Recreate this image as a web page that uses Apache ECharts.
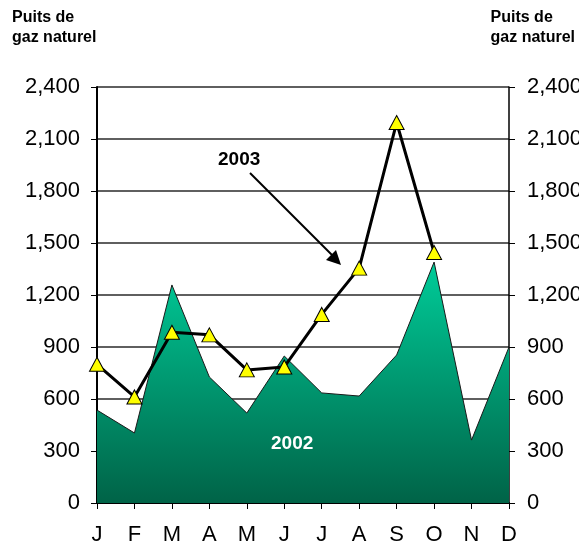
<!DOCTYPE html>
<html>
<head>
<meta charset="utf-8">
<title>Puits de gaz naturel</title>
<script src="https://cdn.jsdelivr.net/npm/echarts@6/dist/echarts.min.js"></script>
<style>
  html, body { margin: 0; padding: 0; background: #fff; }
  #chart { width: 579px; height: 546px; }
</style>
</head>
<body>
<div id="chart"></div>
<script type="text/javascript">
// données
var months = ['J', 'F', 'M', 'A', 'M', 'J', 'J', 'A', 'S', 'O', 'N', 'D'];
var wells2002 = [536, 404, 1258, 727, 519, 848, 635, 617, 854, 1390, 363, 900];
var wells2003 = [800, 612, 985, 970, 768, 785, 1088, 1355, 2195, 1445, null, null];
var yTicks = [0, 300, 600, 900, 1200, 1500, 1800, 2100, 2400];

var myChart = echarts.init(document.getElementById('chart'));

var labelFont = { fontFamily: 'Liberation Sans, Arial, sans-serif', fontSize: 22, color: '#000' };
var fmt = function (v) { return v.toLocaleString('en-US'); };

var option = {
    animation: false,
    backgroundColor: '#fff',
    grid: { left: 97, right: 70, top: 87, bottom: 43, outerBoundsMode: 'none', containLabel: false },
    xAxis: {
        type: 'category',
        data: months,
        boundaryGap: false,
        axisLine: { lineStyle: { color: '#000', width: 2 } },
        axisTick: { show: true, length: 6, alignWithLabel: true, lineStyle: { color: '#000', width: 1 } },
        axisLabel: Object.assign({ margin: 21, interval: 0 }, labelFont)
    },
    yAxis: [
        {
            type: 'value',
            min: yTicks[0],
            max: yTicks[yTicks.length - 1],
            interval: 300,
            axisLine: { show: true, lineStyle: { color: '#000', width: 2 } },
            axisTick: { show: true, length: 6, lineStyle: { color: '#000' } },
            splitLine: { show: true, lineStyle: { color: '#2a2a2a', width: 1.5 } },
            axisLabel: Object.assign({ margin: 17, formatter: fmt }, labelFont)
        },
        {
            type: 'value',
            position: 'right',
            min: yTicks[0],
            max: yTicks[yTicks.length - 1],
            interval: 300,
            axisLine: { show: true, lineStyle: { color: '#000', width: 1.5 } },
            axisTick: { show: true, length: 6, lineStyle: { color: '#000' } },
            splitLine: { show: false },
            axisLabel: Object.assign({ margin: 18, formatter: fmt }, labelFont)
        }
    ],
    graphic: [
        { type: 'text', left: 12, top: 8, style: { text: 'Puits de\ngaz naturel', font: 'bold 16px Liberation Sans, Arial, sans-serif', lineHeight: 20, fill: '#000' } },
        { type: 'text', right: 4, top: 8, style: { text: 'Puits de\ngaz naturel', font: 'bold 16px Liberation Sans, Arial, sans-serif', lineHeight: 20, fill: '#000', align: 'right' } },
        { type: 'text', left: 218, top: 150, z: 100, style: { text: '2003', font: 'bold 19px Liberation Sans, Arial, sans-serif', fill: '#000' } },
        { type: 'line', z: 100, shape: { x1: 250, y1: 173, x2: 333, y2: 256 }, style: { stroke: '#000', lineWidth: 2 } },
        { type: 'polygon', z: 100, shape: { points: [[341, 265], [326, 260], [336, 250]] }, style: { fill: '#000' } },
        { type: 'text', left: 271, top: 434, z: 100, style: { text: '2002', font: 'bold 19px Liberation Sans, Arial, sans-serif', fill: '#fff' } }
    ],
    series: [
        {
            name: '2002',
            type: 'line',
            data: wells2002,
            symbol: 'none',
            lineStyle: { color: '#1a1a1a', width: 1 },
            areaStyle: {
                opacity: 1,
                color: new echarts.graphic.LinearGradient(0, 0, 0, 1, [
                    { offset: 0, color: '#00CC99' },
                    { offset: 1, color: '#006347' }
                ])
            },
            z: 2
        },
        {
            name: '2003',
            type: 'line',
            data: wells2003,
            symbol: 'triangle',
            symbolSize: [15, 14],
            itemStyle: { color: '#FFFF00', borderColor: '#000', borderWidth: 1 },
            lineStyle: { color: '#000', width: 3 },
            z: 5
        }
    ]
};

myChart.setOption(option);
</script>
</body>
</html>
